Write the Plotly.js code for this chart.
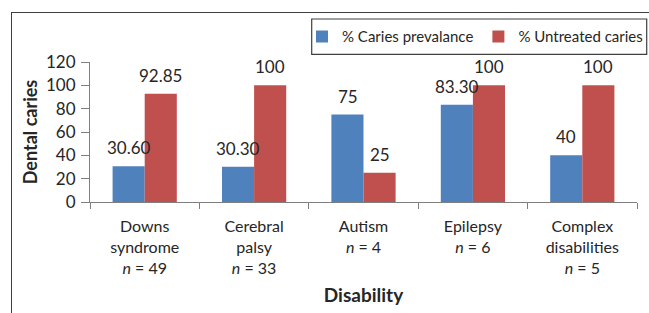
<!DOCTYPE html>
<html>
<head>
<meta charset="utf-8">
<script src="https://cdn.plot.ly/plotly-3.0.1.min.js"></script>
<style>
  html, body { margin: 0; padding: 0; background: #fff; }
  #wrap { position: relative; width: 649px; height: 313px; overflow: hidden; }
  #chart { width: 649px; height: 313px; }
  #frame { position: absolute; left: 11px; top: 12px; width: 700px; height: 400px;
           border-left: 1.5px solid #3f3f3f; border-top: 1.5px solid #3f3f3f; pointer-events: none; }
</style>
</head>
<body>
<div id="wrap"><div id="chart"></div><div id="frame"></div></div>
<script>
const categories = [
  "Downs<br>syndrome<br><i>n</i> = 49",
  "Cerebral<br>palsy<br><i>n</i> = 33",
  "Autism<br><i>n</i> = 4",
  "Epilepsy<br><i>n</i> = 6",
  "Complex<br>disabilities<br><i>n</i> = 5"
];
const prevalence = [30.6, 30.3, 75, 83.3, 40];
const untreated = [92.85, 100, 25, 100, 100];
const prevalenceLabels = ["30.60", "30.30", "75", "83.30", "40"];
const untreatedLabels = ["92.85", "100", "25", "100", "100"];
const seriesNames = ["% Caries prevalance", "% Untreated caries"];
const yTicks = [0, 20, 40, 60, 80, 100, 120];

const FONT = "Lato, 'Open Sans', sans-serif";
const TXT = "#262626";

const traces = [
  { type: "bar", name: seriesNames[0], x: categories, y: prevalence,
    marker: { color: "#4F81BD" }, hoverinfo: "none" },
  { type: "bar", name: seriesNames[1], x: categories, y: untreated,
    marker: { color: "#C0504D" }, hoverinfo: "none" }
];

const annotations = [];
categories.forEach((c, i) => {
  annotations.push({ x: c, y: prevalence[i], xref: "x", yref: "y", text: prevalenceLabels[i],
    showarrow: false, xshift: -16, yanchor: "bottom", yshift: 6,
    font: { family: FONT, size: 17, color: TXT } });
  annotations.push({ x: c, y: untreated[i], xref: "x", yref: "y", text: untreatedLabels[i],
    showarrow: false, xshift: 16, yanchor: "bottom", yshift: 6,
    font: { family: FONT, size: 17, color: TXT } });
});

const layout = {
  width: 649, height: 313,
  margin: { l: 90, r: 12, t: 62, b: 111 },
  paper_bgcolor: "rgba(0,0,0,0)", plot_bgcolor: "#fff",
  font: { family: FONT, size: 16, color: TXT },
  barmode: "group", bargap: 0.413, bargroupgap: 0,
  showlegend: true,
  legend: {
    orientation: "h", x: 302 / 649, xanchor: "left", xref: "container",
    y: 1 - 36.7 / 313, yanchor: "middle", yref: "container",
    borderwidth: 0, bgcolor: "rgba(0,0,0,0)",
    font: { family: FONT, size: 15, color: TXT }, traceorder: "normal"
  },
  shapes: [{
    type: "rect", xref: "paper", yref: "paper",
    x0: (311.7 - 90) / 547, x1: (646.7 - 90) / 547,
    y0: (202 - 54.3) / 140, y1: (202 - 19) / 140,
    line: { color: "#3f3f3f", width: 1.2 }, fillcolor: "rgba(0,0,0,0)", layer: "above"
  }],
  xaxis: {
    type: "category", tickson: "boundaries", ticks: "outside", ticklen: 6,
    tickcolor: "#7f7f7f", showline: true, linecolor: "#7f7f7f", linewidth: 1,
    showgrid: false, zeroline: false, fixedrange: true, ticklabelstandoff: 10,
    tickfont: { family: FONT, size: 16, color: TXT },
    title: { text: "<b>Disability</b>", font: { family: FONT, size: 19, color: TXT }, standoff: 12 }
  },
  yaxis: {
    range: [0, 120], tickvals: yTicks, ticktext: yTicks.map(String),
    ticks: "outside", ticklen: 8, tickcolor: "#7f7f7f",
    showline: true, linecolor: "#7f7f7f", linewidth: 1,
    showgrid: false, zeroline: false, fixedrange: true, ticklabelstandoff: 2,
    tickfont: { family: FONT, size: 17, color: TXT },
    title: { text: "<b>Dental caries</b>", font: { family: FONT, size: 18, color: TXT }, standoff: 3 }
  },
  annotations: annotations
};

Plotly.newPlot("chart", traces, layout, { staticPlot: true, displayModeBar: false });
</script>
</body>
</html>
